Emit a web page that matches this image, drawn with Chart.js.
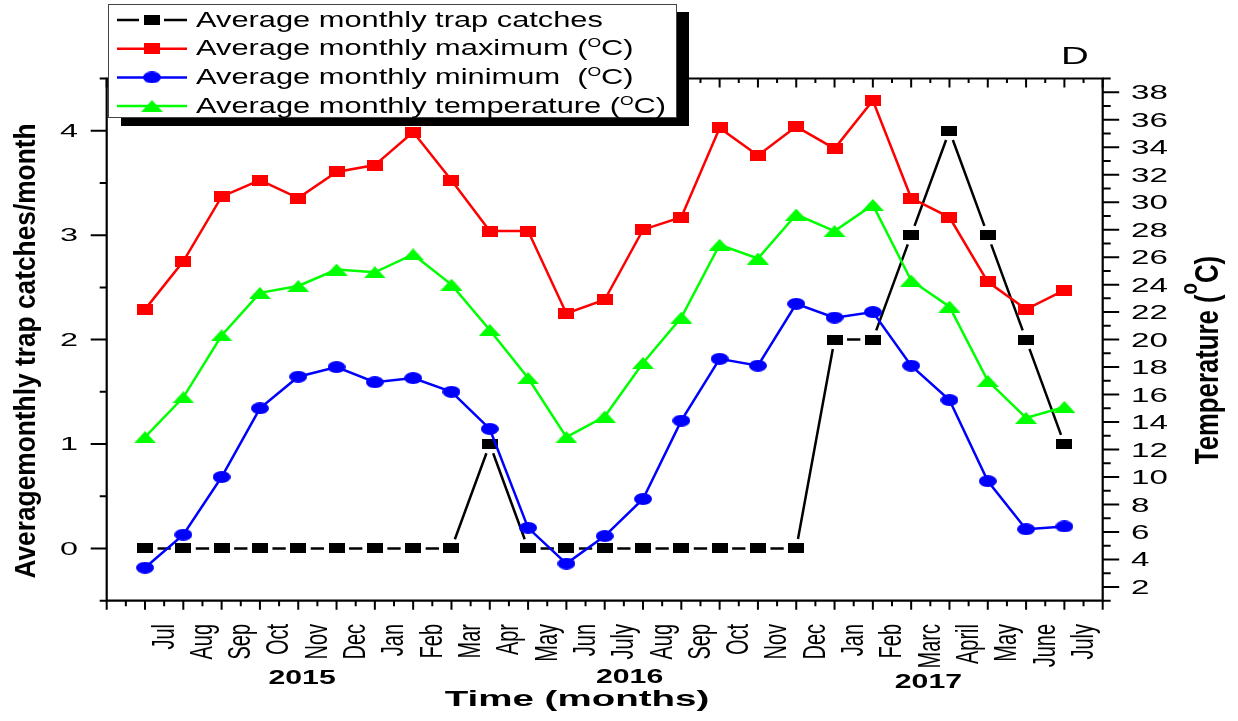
<!DOCTYPE html>
<html>
<head>
<meta charset="utf-8">
<title>Trap catches and temperature</title>
<script src="https://cdn.jsdelivr.net/npm/chart.js@4.4.0/dist/chart.umd.min.js"></script>
<style>
  html, body { margin: 0; padding: 0; background: #fff; }
  #chart { display: block; }
</style>
</head>
<body>
<canvas id="chart" width="1238" height="721"></canvas>
<script>
var MONTHS = ["Jul", "Aug", "Sep", "Oct", "Nov", "Dec", "Jan", "Feb", "Mar", "Apr", "May", "Jun",
              "July", "Aug", "Sep", "Oct", "Nov", "Dec", "Jan", "Feb", "Marc", "April", "May", "June", "July"];
var YEARS = ["2015", "2016", "2017"];

var TRAP_CATCHES = [0, 0, 0, 0, 0, 0, 0, 0, 0, 1, 0, 0, 0, 0, 0, 0, 0, 0, 2, 2, 3, 4, 3, 2, 1];
var MAX_TEMP = [22.2, 25.7, 30.4, 31.6, 30.3, 32.2, 32.7, 35.1, 31.6, 27.9, 27.9, 21.9,
                22.9, 28.0, 28.9, 35.4, 33.4, 35.5, 33.9, 37.4, 30.3, 28.9, 24.2, 22.2, 23.6];
var MIN_TEMP = [3.4, 5.8, 10.0, 15.0, 17.3, 18.0, 16.9, 17.2, 16.2, 13.5, 6.3, 3.7,
                5.7, 8.4, 14.1, 18.6, 18.1, 22.6, 21.6, 22.0, 18.1, 15.6, 9.7, 6.2, 6.4];
var AVG_TEMP = [12.9, 15.8, 20.3, 23.4, 23.9, 25.1, 24.9, 26.2, 24.0, 20.7, 17.2, 12.9,
                14.4, 18.3, 21.6, 26.9, 25.9, 29.1, 27.9, 29.8, 24.3, 22.4, 17.0, 14.3, 15.1];

var SERIES_NAMES = ["Average monthly trap catches", "Average monthly maximum ",
                    "Average monthly minimum  ", "Average monthly temperature "];
var COLORS = ["#000000", "#ff0000", "#0000ff", "#00ff00"];

var FONT = "'Liberation Sans', Arial, sans-serif";

// little canvases used as point styles
function marker(w, h, color, shape) {
  var c = document.createElement("canvas");
  c.width = w;
  c.height = h;
  var g = c.getContext("2d");
  g.fillStyle = color;
  g.beginPath();
  if (shape == "rect") g.rect(0, 0, w, h);
  else if (shape == "ellipse") g.ellipse(w / 2, h / 2, w / 2, h / 2, 0, 0, Math.PI * 2);
  else { g.moveTo(w / 2, 0); g.lineTo(w, h); g.lineTo(0, h); g.closePath(); }
  g.fill();
  return c;
}
var MARKERS = [
  marker(16, 10, COLORS[0], "rect"),
  marker(16, 11, COLORS[1], "rect"),
  marker(18, 12, COLORS[2], "ellipse"),
  marker(22, 12, COLORS[3], "triangle")
];

function xy(values) {
  var out = [];
  for (var i = 0; i < values.length; i++) out.push({ x: i, y: values[i] });
  return out;
}

// text drawn in pieces, each piece may be raised (superscript)
function richText(ctx, parts, x, y, o) {
  ctx.save();
  ctx.translate(x, y);
  if (o.rot) ctx.rotate(o.rot);
  ctx.scale(o.sx || 1, o.sy || 1);
  ctx.fillStyle = "#000";
  ctx.textBaseline = "alphabetic";
  ctx.textAlign = "left";
  var w = 0;
  parts.forEach(function (p) { ctx.font = p.font; w += ctx.measureText(p.t).width; });
  var cx = o.align == "center" ? -w / 2 : (o.align == "right" ? -w : 0);
  parts.forEach(function (p) {
    ctx.font = p.font;
    ctx.fillText(p.t, cx, -(p.rise || 0));
    cx += ctx.measureText(p.t).width;
  });
  ctx.restore();
}

// black series: straight pieces that stop short of each square
function gappedLine(ctx, pts, hw, hh, gap) {
  ctx.beginPath();
  for (var i = 0; i < pts.length - 1; i++) {
    var p = pts[i], q = pts[i + 1];
    var dx = q.x - p.x, dy = q.y - p.y;
    var len = Math.hypot(dx, dy);
    var ux = dx / len, uy = dy / len;
    var t = Math.min(ux ? hw / Math.abs(ux) : Infinity, uy ? hh / Math.abs(uy) : Infinity) + gap;
    if (len > 2 * t) {
      ctx.moveTo(p.x + ux * t, p.y + uy * t);
      ctx.lineTo(q.x - ux * t, q.y - uy * t);
    }
  }
  ctx.stroke();
}

var frame = {
  id: "frame",
  beforeDatasetsDraw: function (chart) {
    var ctx = chart.ctx;
    ctx.save();
    ctx.strokeStyle = COLORS[0];
    ctx.lineWidth = 2.5;
    gappedLine(ctx, chart.getDatasetMeta(0).data, 8, 5, 4.5);
    ctx.restore();
  },
  afterDraw: function (chart) {
    var ctx = chart.ctx;
    var a = chart.chartArea;
    var sx = chart.scales.x, sl = chart.scales.y, sr = chart.scales.y1;
    var v, px, major;

    ctx.save();
    ctx.strokeStyle = "#000";
    ctx.lineWidth = 2.2;
    ctx.beginPath();
    ctx.moveTo(a.left, a.top);
    ctx.lineTo(a.left, a.bottom);
    ctx.lineTo(a.right, a.bottom);
    ctx.lineTo(a.right, a.top);
    ctx.closePath();
    ctx.stroke();

    // tick marks
    ctx.lineWidth = 2;
    ctx.beginPath();
    for (v = sx.min; v <= sx.max + 1e-6; v += 0.5) {
      px = sx.getPixelForValue(v);
      major = Math.abs(v % 1) < 1e-6;
      ctx.moveTo(px, a.bottom);
      ctx.lineTo(px, a.bottom + (major ? 9 : 5.5));
      ctx.moveTo(px, a.top);
      ctx.lineTo(px, a.top + (major ? 9 : 4.5));
    }
    for (v = sl.min; v <= sl.max + 1e-6; v += 0.5) {
      px = sl.getPixelForValue(v);
      major = Math.abs(v % 1) < 1e-6;
      ctx.moveTo(a.left, px);
      ctx.lineTo(a.left - (major ? 16 : 7), px);
    }
    for (v = sr.min; v <= sr.max + 1e-6; v += 1) {
      px = sr.getPixelForValue(v);
      major = v % 2 == 0;
      ctx.moveTo(a.right, px);
      ctx.lineTo(a.right + (major ? 16.5 : 8), px);
    }
    ctx.stroke();

    // tick labels
    for (v = 0; v <= 4; v++) {
      richText(ctx, [{ t: String(v), font: "17.5px " + FONT }], 78, sl.getPixelForValue(v) + 6.3,
               { sx: 1.85, align: "right" });
    }
    for (v = 2; v <= 38; v += 2) {
      richText(ctx, [{ t: String(v), font: "19.5px " + FONT }], 1131, sr.getPixelForValue(v) + 7,
               { sx: 1.7 });
    }
    for (var i = 0; i < MONTHS.length; i++) {
      richText(ctx, [{ t: MONTHS[i], font: "20px " + FONT }], sx.getPixelForValue(i) + 28.5, 624,
               { rot: -Math.PI / 2, sy: 1.6, align: "right" });
    }

    // years under the month labels
    var yearAt = [4.1, 12.65, 20.45], yearBase = [684, 683, 688];
    for (i = 0; i < YEARS.length; i++) {
      richText(ctx, [{ t: YEARS[i], font: "bold 19.5px " + FONT }], sx.getPixelForValue(yearAt[i]), yearBase[i],
               { sx: 1.55, align: "center" });
    }

    // axis titles
    richText(ctx, [{ t: "Time (months)", font: "bold 22.4px " + FONT }], 577, 706, { sx: 1.72, align: "center" });
    richText(ctx, [{ t: "Averagemonthly trap catches/month", font: "bold 30px " + FONT }], 35, 351,
             { rot: -Math.PI / 2, sx: 0.877, align: "center" });
    richText(ctx, [
      { t: "Temperature (", font: "bold 33px " + FONT },
      { t: "o", font: "bold 24px " + FONT, rise: 21 },
      { t: "C)", font: "bold 33px " + FONT }
    ], 1217.6, 360, { rot: -Math.PI / 2, sx: 0.78, align: "center" });

    richText(ctx, [{ t: "D", font: "24px " + FONT }], 1061, 64, { sx: 1.6 });

    // legend with drop shadow
    ctx.fillStyle = "#000";
    ctx.fillRect(121, 12, 568, 114);
    ctx.fillStyle = "#fff";
    ctx.fillRect(108, 4, 569, 114);
    ctx.strokeStyle = "#444";
    ctx.lineWidth = 1;
    ctx.strokeRect(108.5, 4.5, 568, 113);
    for (i = 0; i < SERIES_NAMES.length; i++) {
      var ly = 20 + i * 28.7;
      var img = MARKERS[i];
      ctx.strokeStyle = COLORS[i];
      ctx.lineWidth = 2.5;
      ctx.beginPath();
      if (i == 0) {
        ctx.moveTo(117, ly); ctx.lineTo(139, ly);
        ctx.moveTo(164, ly); ctx.lineTo(187, ly);
      } else {
        ctx.moveTo(117, ly); ctx.lineTo(187, ly);
      }
      ctx.stroke();
      ctx.drawImage(img, 152 - img.width / 2, ly - img.height / 2);
      var parts = [{ t: SERIES_NAMES[i], font: "22px " + FONT }];
      if (i > 0) {
        parts.push({ t: "(", font: "22px " + FONT });
        parts.push({ t: "O", font: "12.5px " + FONT, rise: 8 });
        parts.push({ t: "C)", font: "22px " + FONT });
      }
      richText(ctx, parts, 196, ly + 6.7, { sx: 1.4 });
    }
    ctx.restore();
  }
};

var datasets = [
  { label: SERIES_NAMES[0], data: xy(TRAP_CATCHES), yAxisID: "y", showLine: false,
    pointStyle: MARKERS[0], order: 4 },
  { label: SERIES_NAMES[1], data: xy(MAX_TEMP), yAxisID: "y1", borderColor: COLORS[1],
    pointStyle: MARKERS[1], order: 2 },
  { label: SERIES_NAMES[2], data: xy(MIN_TEMP), yAxisID: "y1", borderColor: COLORS[2],
    pointStyle: MARKERS[2], order: 1 },
  { label: SERIES_NAMES[3], data: xy(AVG_TEMP), yAxisID: "y1", borderColor: COLORS[3],
    pointStyle: MARKERS[3], order: 3 }
];

new Chart(document.getElementById("chart"), {
  type: "line",
  data: { datasets: datasets },
  plugins: [frame],
  options: {
    responsive: false,
    animation: false,
    devicePixelRatio: 1,
    events: [],
    layout: { padding: { left: 106.7, right: 135.3, top: 78.5, bottom: 120.3 } },
    elements: {
      line: { borderWidth: 2.5, tension: 0, fill: false },
      point: { radius: 8 }
    },
    plugins: { legend: { display: false }, tooltip: { enabled: false } },
    scales: {
      x: { type: "linear", display: false, min: -1, max: 25 },
      y: { type: "linear", display: false, position: "left", min: -0.5, max: 4.5 },
      y1: { type: "linear", display: false, position: "right", min: 1, max: 39 }
    }
  }
});
</script>
</body>
</html>
